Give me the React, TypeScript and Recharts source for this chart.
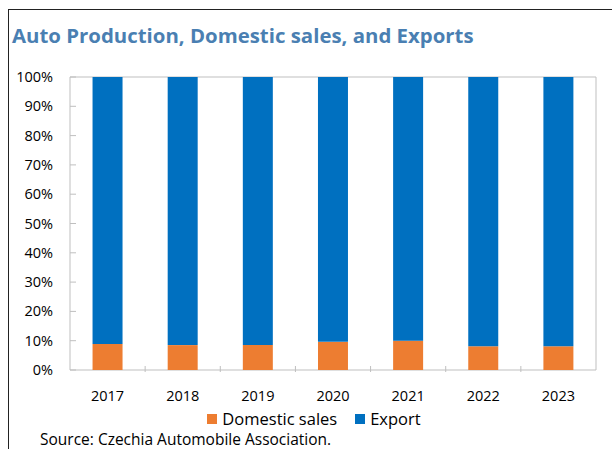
import { BarChart, Bar, XAxis, YAxis, Legend, ReferenceArea } from "recharts";

const years = ["2017", "2018", "2019", "2020", "2021", "2022", "2023"];
const domesticShare = [8.9, 8.5, 8.5, 9.6, 10.0, 8.1, 8.1];
const exportShare = [91.1, 91.5, 91.5, 90.4, 90.0, 91.9, 91.9];
const yTicks = [0, 10, 20, 30, 40, 50, 60, 70, 80, 90, 100];

const data = years.map((year, i) => ({
  year,
  domestic: domesticShare[i],
  export: exportShare[i],
}));

const FONT = "'Open Sans', 'Noto Sans', sans-serif";
const AXIS_GREY = "#bfbfbf";

// y tick: label on the left, short tick mark inside the plot
const YTick = (props: any) => {
  const { x, y, payload } = props;
  return (
    <g>
      <text x={x} y={y} dy={5} textAnchor="end" fontSize={14.5} fill="#000" fontFamily={FONT}>
        {payload.value}%
      </text>
      <line x1={x + 17} x2={x + 23} y1={y} y2={y} stroke={AXIS_GREY} />
    </g>
  );
};

// x tick: year label, plus inside tick mark at the left edge of each category
const XTick = (props: any) => {
  const { x, y, payload, index } = props;
  const band = 526 / years.length;
  return (
    <g>
      <text x={x} y={y + 24} dy={5} textAnchor="middle" fontSize={14.5} fill="#000" fontFamily={FONT}>
        {payload.value}
      </text>
      {index > 0 && (
        <line x1={x - band / 2} x2={x - band / 2} y1={y} y2={y - 6} stroke={AXIS_GREY} />
      )}
    </g>
  );
};

const LegendContent = (props: any) => {
  const { payload } = props;
  return (
    <div style={{ display: "flex", justifyContent: "center", fontFamily: FONT, fontSize: 16.5, lineHeight: "22px" }}>
      {(payload || []).map((entry: any, i: number) => (
        <div key={i} style={{ display: "flex", alignItems: "center", marginLeft: i > 0 ? 18 : 0 }}>
          <span style={{ width: 10, height: 10, background: entry.color, marginRight: 5, display: "inline-block" }} />
          <span style={{ color: "#000" }}>{entry.value}</span>
        </div>
      ))}
    </div>
  );
};

const App = () => {
  return (
    <div
      style={{
        position: "absolute",
        left: 0,
        top: 0,
        width: 612,
        height: 449,
        background: "#fff",
        fontFamily: FONT,
        overflow: "hidden",
      }}
    >
      <div
        style={{
          position: "absolute",
          left: 8,
          top: 9,
          width: 620,
          height: 460,
          borderTop: "1.5px solid #222",
          borderLeft: "1.5px solid #222",
        }}
      />
      <div
        style={{
          position: "absolute",
          left: 12,
          top: 21,
          fontSize: 20.4,
          fontWeight: 700,
          color: "#4a7fb2",
          whiteSpace: "nowrap",
        }}
      >
        Auto Production, Domestic sales, and Exports
      </div>

      <div style={{ position: "absolute", left: 0, top: 0 }}>
        <BarChart
          width={612}
          height={449}
          data={data}
          margin={{ top: 77, right: 16, left: 0, bottom: 27 }}
          barCategoryGap="30%"
        >
          <XAxis
            dataKey="year"
            tick={<XTick />}
            tickLine={false}
            tickSize={0}
            axisLine={false}
            height={30}
            interval={0}
          />
          <YAxis
            domain={[0, 100]}
            ticks={yTicks}
            tick={<YTick />}
            tickLine={false}
            tickSize={0}
            tickMargin={17}
            axisLine={false}
            width={70}
            interval={0}
          />
          <ReferenceArea y1={0} y2={100} fill="none" stroke={AXIS_GREY} strokeWidth={1} ifOverflow="visible" />
          <Legend
            verticalAlign="bottom"
            content={<LegendContent />}
            wrapperStyle={{ left: 8, top: 408, width: 612 }}
          />
          <Bar
            dataKey="domestic"
            name="Domestic sales"
            stackId="a"
            fill="#ED7D31"
            isAnimationActive={false}
          />
          <Bar
            dataKey="export"
            name="Export"
            stackId="a"
            fill="#0070C0"
            isAnimationActive={false}
          />
        </BarChart>
      </div>

      <div
        style={{
          position: "absolute",
          left: 40,
          top: 432,
          fontSize: 15.5,
          lineHeight: "15px",
          color: "#000",
          whiteSpace: "nowrap",
        }}
      >
        Source: Czechia Automobile Association.
      </div>
    </div>
  );
};

export default App;
